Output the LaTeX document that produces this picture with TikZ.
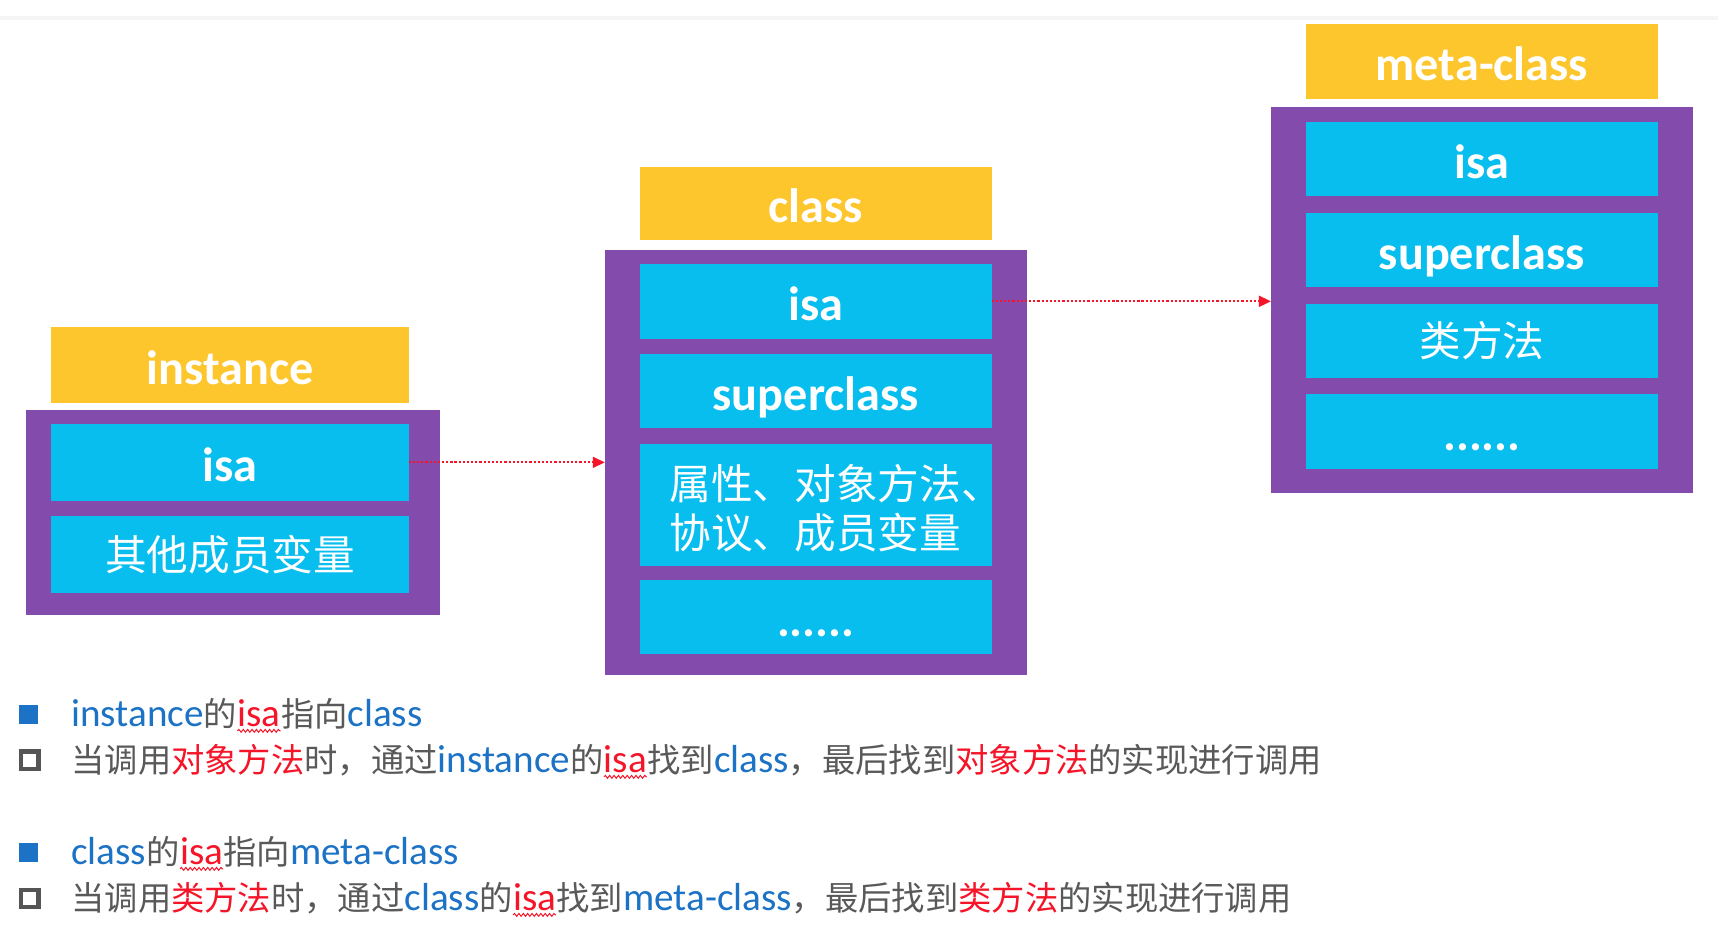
\documentclass[tikz,border=0pt]{standalone}
\usepackage{fontspec}
\setmainfont{Carlito}
\newfontfamily\cjk{Noto Sans CJK SC}
\usetikzlibrary{arrows.meta,decorations.pathmorphing}
\definecolor{hdrc}{RGB}{253,198,45}
\definecolor{purc}{RGB}{131,76,172}
\definecolor{cellc}{RGB}{8,190,238}
\definecolor{tblue}{RGB}{28,114,196}
\definecolor{tgray}{RGB}{89,89,89}
\definecolor{tred}{RGB}{245,20,40}
\definecolor{bgray}{RGB}{85,85,85}
\newcommand\tLB[1]{\textcolor{tblue}{#1}}
\newcommand\tLR[1]{\textcolor{tred}{\tikz[baseline=0pt,x=1pt,y=1pt]{%
  \node[inner sep=0pt,outer sep=0pt,anchor=base west] (wv) at (0,0) {#1};%
  \draw[tred, line width=0.9pt, decorate, decoration={snake, amplitude=1.3pt, segment length=4pt}]
    ([yshift=-4pt]wv.base west) -- ([yshift=-4pt]wv.base east);}}}
\newcommand\tZG[1]{{\cjk\fontsize{30.4}{36}\selectfont\textcolor{tgray}{#1}}}
\newcommand\tZR[1]{{\cjk\fontsize{30.4}{36}\selectfont\textcolor{tred}{#1}}}
\tikzset{
  hdr/.style={fill=hdrc, text=white, inner sep=0pt, outer sep=0pt,
    font=\bfseries\fontsize{44}{50}\selectfont, text height=35.2pt, text depth=0pt},
  pbox/.style={fill=purc, inner sep=0pt, outer sep=0pt},
  cellL/.style={fill=cellc, text=white, inner sep=0pt, outer sep=0pt,
    font=\bfseries\fontsize{44}{50}\selectfont, text height=35.2pt, text depth=0pt},
  cellZ/.style={fill=cellc, text=white, inner sep=0pt, outer sep=0pt,
    font=\cjk\fontsize{38}{45}\selectfont, text height=33.4pt, text depth=4.6pt},
  wA/.style={minimum width=326pt}, wB/.style={minimum width=321pt},
  txtline/.style={anchor=base west, inner sep=0pt, font=\fontsize{35.7}{42}\selectfont},
  fbullet/.style={fill=tblue, minimum size=18pt, inner sep=0pt},
  hbullet/.style={draw=bgray, line width=4pt, minimum size=16pt, inner sep=0pt},
  conn/.style={draw=tred, line width=1.8pt, dash pattern=on 2pt off 1.8pt,
    -{Triangle[length=11pt,width=10pt]}},
}
\begin{document}
\begin{tikzpicture}[x=1pt,y=-1pt]
\useasboundingbox (0,0) rectangle (1568,849);
\fill[white] (0,0) rectangle (1568,849);
\draw[black!4, line width=3pt] (0,16.5) -- (1568,16.5);

% instance
\node[pbox, minimum width=378pt, minimum height=187pt] (ibox) at (213,467.5) {};
\node[hdr, wA, minimum height=70pt] (ihead) at (210,333) {instance};
\node[cellL, wA, minimum height=70pt] (iisa) at (210,422) {isa};
\node[cellZ, wA, minimum height=70pt] (iother) at (210,506) {其他成员变量};

% class
\node[pbox, minimum width=385pt, minimum height=388pt] (cbox) at (744.5,422) {};
\node[hdr, wB, minimum height=67pt] (chead) at (744.5,185.5) {class};
\node[cellL, wB, minimum height=68pt] (cisa) at (744.5,275) {isa};
\node[cellL, wB, minimum height=68pt] (csuper) at (744.5,357) {superclass};
\node[cellZ, wB, minimum height=112pt] (cprop) at (744.5,461) {};
\node[anchor=west, inner sep=0pt, text=white, align=left,
  font=\cjk\fontsize{38}{45}\selectfont] (cproptext) at (611,464)
  {属性、对象方法、\\协议、成员变量};
\node[cellL, wB, minimum height=68pt] (cmore) at (744.5,563) {......};

% meta-class
\node[pbox, minimum width=385pt, minimum height=352pt] (mbox) at (1352.5,274) {};
\node[hdr, wB, minimum height=68pt] (mhead) at (1352.5,56) {meta-class};
\node[cellL, wB, minimum height=68pt] (misa) at (1352.5,145) {isa};
\node[cellL, wB, minimum height=68pt] (msuper) at (1352.5,228) {superclass};
\node[cellZ, wB, minimum height=68pt] (mcls) at (1352.5,311) {类方法};
\node[cellL, wB, minimum height=68pt] (mmore) at (1352.5,394) {......};

% connectors
\draw[conn] (iisa.east) -- (iisa.east -| cbox.west);
\draw[conn] (cisa.east) -- (cisa.east -| mbox.west);

% bullet text
\node[fbullet] (b1) at (26,652) {};
\node[txtline] (l1) at (65,663) {\tLB{instance}\tZG{的}\tLR{isa}\tZG{指向}\tLB{class}};
\node[hbullet] (b2) at (27,694) {};
\node[txtline] (l2) at (65,705) {\tZG{当调用}\tZR{对象方法}\tZG{时，通过}\tLB{instance}\tZG{的}\tLR{isa}\tZG{找到}\tLB{class}\tZG{，最后找到}\tZR{对象方法}\tZG{的实现进行调用}};
\node[fbullet] (b3) at (26,778) {};
\node[txtline] (l3) at (65,789) {\tLB{class}\tZG{的}\tLR{isa}\tZG{指向}\tLB{meta-class}};
\node[hbullet] (b4) at (27,820) {};
\node[txtline] (l4) at (65,831) {\tZG{当调用}\tZR{类方法}\tZG{时，通过}\tLB{class}\tZG{的}\tLR{isa}\tZG{找到}\tLB{meta-class}\tZG{，最后找到}\tZR{类方法}\tZG{的实现进行调用}};
\end{tikzpicture}
\end{document}
